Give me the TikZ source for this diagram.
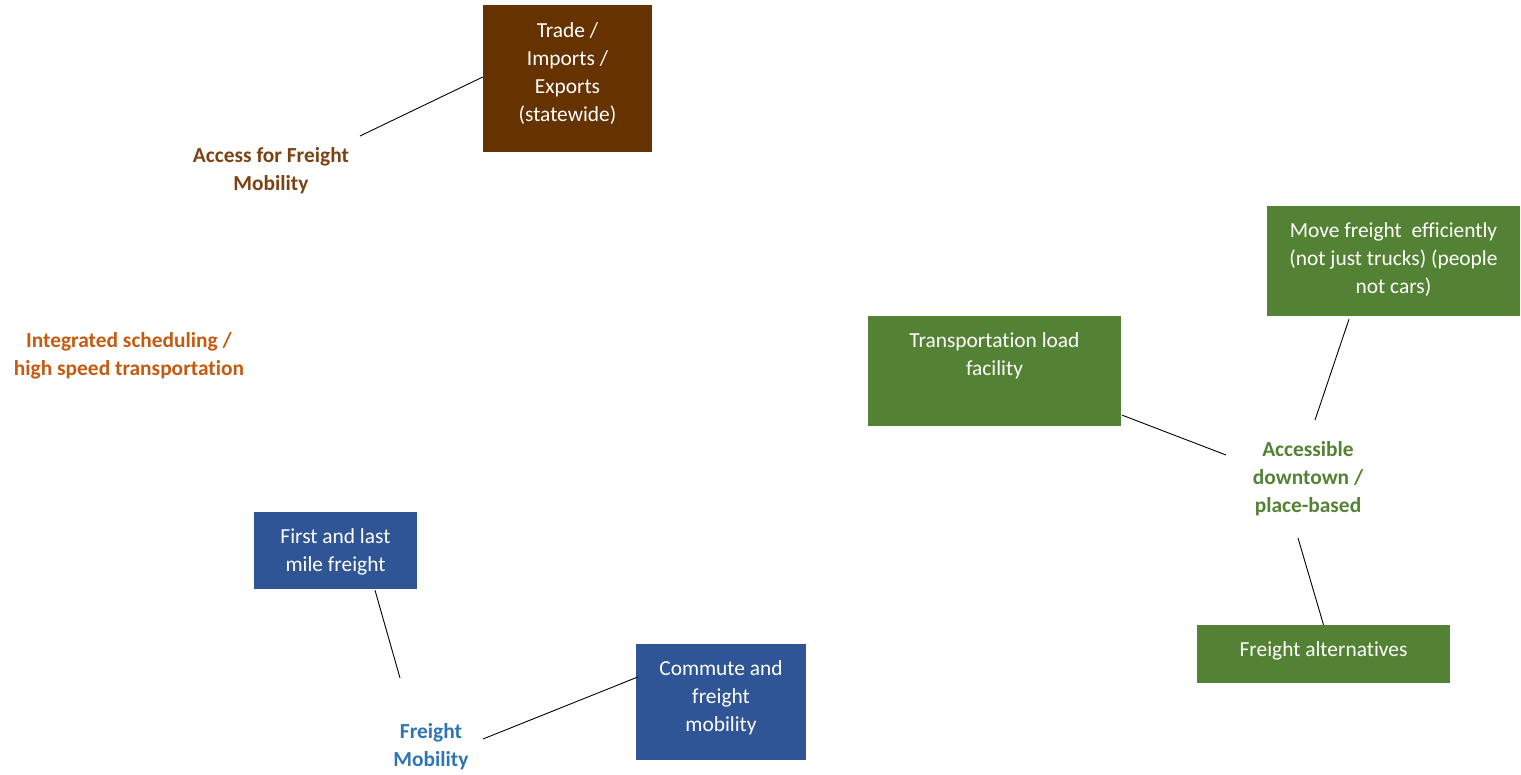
\documentclass[tikz,border=0pt]{standalone}
\usepackage{fontspec}
\setmainfont[Ligatures=NoCommon]{Carlito}
\usetikzlibrary{calc}
\definecolor{brownbox}{HTML}{663300}
\definecolor{browntext}{HTML}{7B4214}
\definecolor{orangetext}{HTML}{C55A11}
\definecolor{greenbox}{HTML}{548235}
\definecolor{bluebox}{HTML}{2F5597}
\definecolor{bluetext}{HTML}{2E75B6}
\tikzset{
  box/.style={rectangle, inner sep=0pt},
  boxtext/.style={inner sep=0pt, text=white, align=center,
    font=\fontsize{21.4}{28}\selectfont},
  tag/.style={inner sep=0pt, align=center, font=\fontsize{21.4}{28}\selectfont\bfseries},
  link/.style={draw=black, line width=0.9pt}
}
\begin{document}
\begin{tikzpicture}[x=1pt, y=-1pt]
\useasboundingbox (0,0) rectangle (1521,775);

% coloured boxes
\node[box, fill=brownbox, minimum width=169pt, minimum height=147pt] (trade) at (567.5,78.5) {};
\node[box, fill=greenbox, minimum width=253pt, minimum height=110pt] (move) at (1393.5,261) {};
\node[box, fill=greenbox, minimum width=253pt, minimum height=110pt] (load) at (994.5,371) {};
\node[box, fill=greenbox, minimum width=253pt, minimum height=58pt] (alt) at (1323.5,654) {};
\node[box, fill=bluebox, minimum width=163pt, minimum height=77pt] (first) at (335.5,550.5) {};
\node[box, fill=bluebox, minimum width=170pt, minimum height=116pt] (commute) at (721,702) {};

% box captions
\node[boxtext] (tradetext) at (567.5,73.5) {Trade /\\Imports /\\Exports\\(statewide)};
\node[boxtext] (movetext) at (1393.5,259.5) {Move freight\ \ efficiently\\(not just trucks) (people\\not cars)};
\node[boxtext] (loadtext) at (994.5,355.5) {Transportation load\\facility};
\node[boxtext] (alttext) at (1323.5,650.5) {Freight alternatives};
\node[boxtext] (firsttext) at (335.5,551.5) {First and last\\mile freight};
\node[boxtext] (commutetext) at (721,697.5) {Commute and\\freight\\mobility};

% theme labels
\node[tag, text=browntext] (access) at (271,171) {Access for Freight\\Mobility};
\node[tag, text=orangetext] (integrated) at (129,356) {Integrated scheduling /\\high speed transportation};
\node[tag, text=greenbox] (accessible) at (1308,478.5) {Accessible\\downtown /\\place-based};
\node[tag, text=bluetext] (fm) at (431,746.5) {Freight\\Mobility};

% connectors
\draw[link] ($(access)+(89,-35)$) -- ($(trade.west)+(0,-1.5)$);
\draw[link] ($(load.south east)+(1,-11)$) -- ($(accessible)+(-82,-23.5)$);
\draw[link] ($(accessible)+(7,-58.5)$) -- ($(move.south)+(-44.5,3)$);
\draw[link] ($(accessible)+(-10,59.5)$) -- (alt.north);
\draw[link] ($(first.south)+(39.5,1)$) -- ($(fm)+(-31,-68.5)$);
\draw[link] ($(fm)+(52,-7.5)$) -- ($(commute.west)+(2,-25)$);
\end{tikzpicture}
\end{document}
